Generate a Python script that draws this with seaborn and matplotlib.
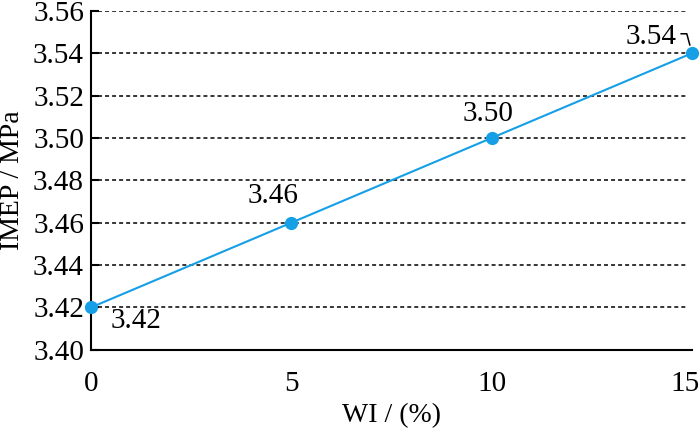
import matplotlib
matplotlib.use('Agg')
import matplotlib.pyplot as plt
import matplotlib.transforms as mtrans
import seaborn as sns
import pandas as pd

wi = [0, 5, 10, 15]
imep = [3.42, 3.46, 3.50, 3.54]
labels = ['3.42', '3.46', '3.50', '3.54']
y_ticks = [3.40, 3.42, 3.44, 3.46, 3.48, 3.50, 3.52, 3.54, 3.56]
x_ticks = [0, 5, 10, 15]

sns.set_style('ticks')
plt.rcParams['font.family'] = ['Liberation Serif', 'DejaVu Serif']
plt.rcParams['text.color'] = 'black'
plt.rcParams['axes.labelcolor'] = 'black'
plt.rcParams['xtick.color'] = 'black'
plt.rcParams['ytick.color'] = 'black'

df = pd.DataFrame({'WI': wi, 'IMEP': imep})

fig, ax = plt.subplots(figsize=(7, 4.34), dpi=100)
fig.subplots_adjust(left=0.130, right=0.9886, bottom=0.194, top=0.975)

# dashed horizontal grid
for yv in y_ticks[1:]:
    ax.axhline(yv, xmax=0.99, color='black', linestyle=(0, (2.6, 2.0)), linewidth=1.1, zorder=1)

sns.lineplot(data=df, x='WI', y='IMEP', ax=ax, color='#159fe6', linewidth=1.5,
             marker='o', markersize=9.5, markeredgewidth=0, clip_on=False, zorder=3)

# value labels: (dx, dy) in points, ha
label_pos = [((14, -15), 'left'), ((5, 14), 'right'), ((16, 12), 'right'), ((-11, 6.5), 'right')]
for x, y, t, (off, ha) in zip(wi, imep, labels, label_pos):
    ax.annotate(t, (x, y), xytext=off, textcoords='offset points', fontsize=21,
                va='baseline', ha=ha)
# leader for last label
ax.annotate('', xy=(wi[-1], imep[-1]), xytext=(-8, 14), textcoords='offset points',
            arrowprops=dict(arrowstyle='-', color='black', lw=1.1, shrinkA=0, shrinkB=6,
                            connectionstyle='angle,angleA=0,angleB=105,rad=0'))

ax.set_xlim(0, 15)
ax.set_ylim(3.40, 3.56)
ax.set_xticks(x_ticks)
ax.set_yticks(y_ticks)
ax.set_yticklabels([f'{v:.2f}' for v in y_ticks])
ax.tick_params(axis='y', direction='in', length=6, width=1.5, labelsize=21, pad=5)
ax.tick_params(axis='x', direction='in', length=0, labelsize=21, pad=15)
last = ax.get_xticklabels()[-1]
last.set_transform(last.get_transform() + mtrans.ScaledTranslation(-7 / 100, 0, fig.dpi_scale_trans))
ax.set_xlabel('WI / (%)', fontsize=20, labelpad=5)
ax.set_ylabel('IMEP / MPa', fontsize=20, labelpad=6)

sns.despine(ax=ax)
for s in ['left', 'bottom']:
    ax.spines[s].set_linewidth(1.5)
    ax.spines[s].set_color('black')

fig.savefig('out.png', dpi=100)
